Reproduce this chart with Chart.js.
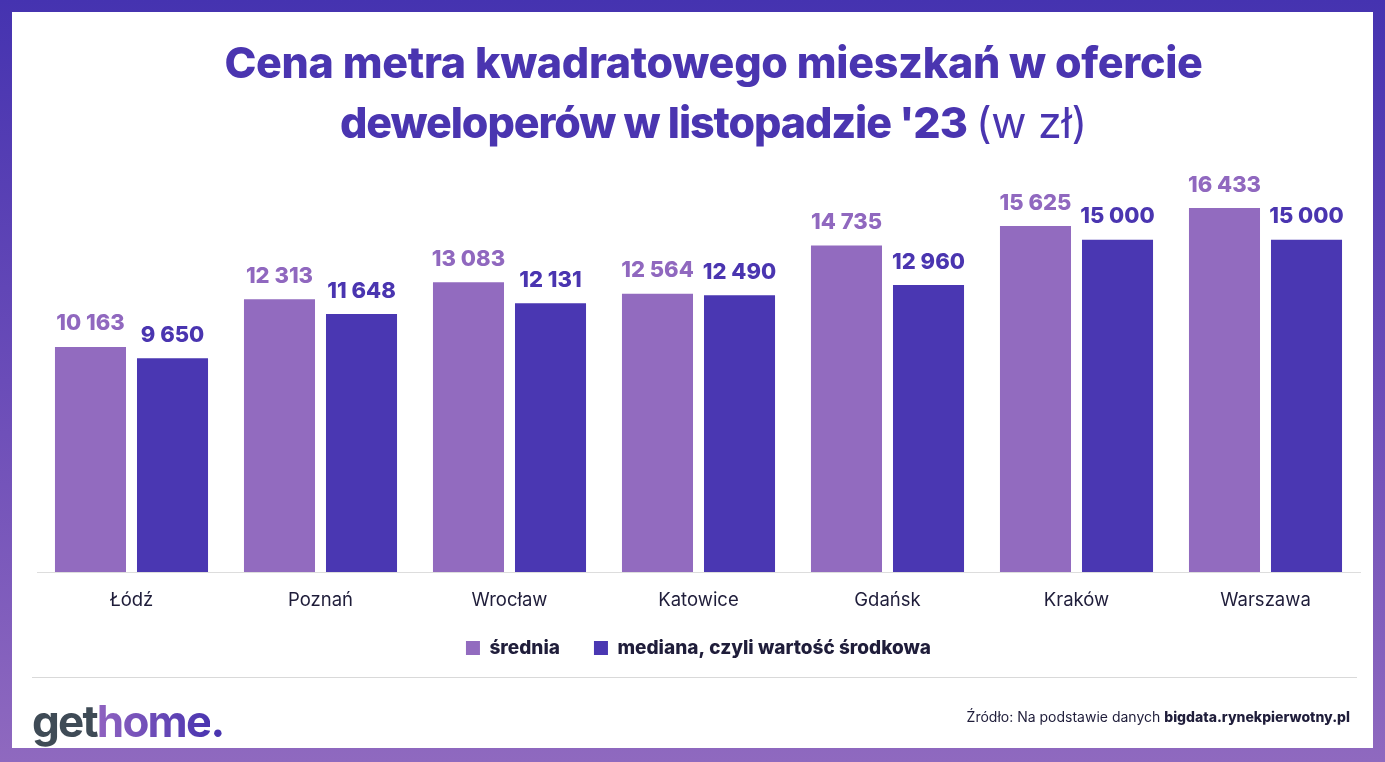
<!DOCTYPE html>
<html lang="pl">
<head>
<meta charset="utf-8">
<script src="https://cdn.jsdelivr.net/npm/chart.js@4"></script>
<style>
  html, body { margin: 0; padding: 0; }
  body {
    width: 1385px; height: 762px; overflow: hidden; position: relative;
    background: linear-gradient(to bottom, #4533b0 0%, #6a4cb8 50%, #8f69bf 100%);
    font-family: "Inter", "DejaVu Sans", sans-serif;
  }
  #panel { position: absolute; left: 12px; top: 12px; width: 1361px; height: 736px; background: #fff; }
  #title {
    position: absolute; left: 42px; top: 20px; width: 1319px; text-align: center;
    color: #4a35b0; font-weight: 800; font-size: 43px; line-height: 60px; letter-spacing: -0.3px;
  }
  #title .l2 { letter-spacing: -1.1px; }
  #title .thin { font-weight: 400; letter-spacing: -0.3px; }
  #wrap { position: absolute; left: 0; top: 0; width: 1361px; height: 736px; }
  #sep { position: absolute; left: 20px; top: 665px; width: 1325px; height: 1px; background: #d9d9d9; }
  #logo { position: absolute; left: 20px; top: 682px; font-size: 44px; font-weight: 700; letter-spacing: -1.8px; }
  #logo .g { color: #3f4b56; }
  #logo .h { background: linear-gradient(to right, #9063c0, #4a35b0); -webkit-background-clip: text; background-clip: text; color: transparent; }
  #logo .d { color: #4a35b0; }
  #src { position: absolute; right: 23px; top: 696px; font-size: 14px; color: #1f1d3a; }
  #src b { font-weight: 800; }
</style>
</head>
<body>
<div id="panel">
  <div id="wrap"><canvas id="chart"></canvas></div>
  <div id="title">Cena metra kwadratowego mieszkań w ofercie<br><span class="l2">deweloperów w listopadzie '23</span> <span class="thin">(w zł)</span></div>
  <div id="sep"></div>
  <div id="logo"><span class="g">get</span><span class="h">home</span><span class="d">.</span></div>
  <div id="src">Źródło: Na podstawie danych <b>bigdata.rynekpierwotny.pl</b></div>
</div>
<script>
const miasta = ["Łódź", "Poznań", "Wrocław", "Katowice", "Gdańsk", "Kraków", "Warszawa"];
const srednia = [10163, 12313, 13083, 12564, 14735, 15625, 16433];
const mediana = [9650, 11648, 12131, 12490, 12960, 15000, 15000];

const kolorSrednia = "#926bbf";
const kolorMediana = "#4a37b2";

function formatuj(v) {
    // spacja jako separator tysięcy
    return String(v).replace(/\B(?=(\d{3})+(?!\d))/g, " ");
}

const etykiety = {
    id: "etykiety",
    afterDatasetsDraw(chart) {
        const ctx = chart.ctx;
        ctx.save();
        ctx.font = "800 22px Inter";
        ctx.textAlign = "center";
        ctx.textBaseline = "bottom";
        chart.data.datasets.forEach(function (ds, i) {
            const meta = chart.getDatasetMeta(i);
            ctx.fillStyle = i === 0 ? "#9068bf" : "#4a35b0";
            meta.data.forEach(function (bar, j) {
                ctx.fillText(formatuj(ds.data[j]), bar.x, bar.y - 12);
            });
        });
        ctx.restore();
    }
};

// legenda troche wyzej niz wynika z ukladu
const przesunLegende = {
    id: "przesunLegende",
    afterLayout(chart) {
        if (chart.legend) {
            chart.legend.top -= 13;
            chart.legend.bottom -= 13;
        }
    }
};

const canvas = document.getElementById("chart");
new Chart(canvas, {
    type: "bar",
    data: {
        labels: miasta,
        datasets: [
            { label: "średnia", data: srednia, backgroundColor: kolorSrednia },
            { label: "mediana, czyli wartość środkowa", data: mediana, backgroundColor: kolorMediana }
        ]
    },
    options: {
        responsive: true,
        maintainAspectRatio: false,
        animation: false,
        categoryPercentage: 0.868,
        barPercentage: 0.866,
        layout: { padding: { top: 117, left: 25, right: 13, bottom: 67.5 } },
        plugins: {
            tooltip: { enabled: false },
            legend: {
                position: "bottom",
                labels: {
                    boxWidth: 14, boxHeight: 14, padding: 34,
                    color: "#1f1d3a",
                    font: { family: "Inter", size: 19, weight: "800" }
                }
            }
        },
        scales: {
            x: {
                grid: { display: false },
                border: { display: true, color: "#dddddd" },
                ticks: { color: "#1f1d3a", padding: 9, font: { family: "Inter", size: 18.5 } },
                afterFit: function (scale) { scale.height = 45.5; }
            },
            y: {
                display: false,
                min: 0,
                max: 20000
            }
        }
    },
    plugins: [etykiety, przesunLegende]
});
</script>
</body>
</html>
